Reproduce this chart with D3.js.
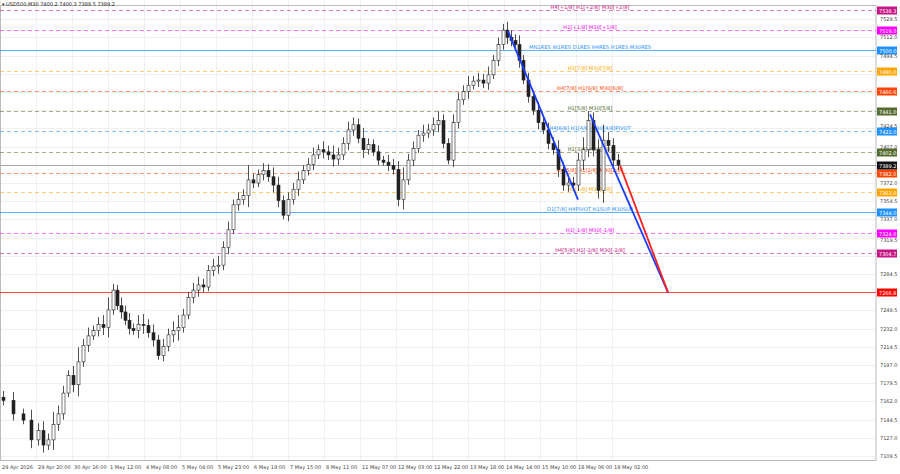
<!DOCTYPE html><html><head><meta charset="utf-8"><script src="https://cdn.jsdelivr.net/npm/d3@7"></script>
<style>body{margin:0;background:#fff}text{font-family:"DejaVu Sans",sans-serif}</style></head><body><svg id="c" width="900" height="474"></svg>
<script>
const bars=[0,10,20,28,35,40,45,50,55,60,65,70,75,80,85,90,95,100,105,110,114,118,122,126,130,135,140,145,150,155,160,165,170,175,180,185,190,195,200,205,210,215,220,225,230,235,240,245,250,255,260,265,270,275,280,285,290,295,300,305,310,315,320,325,330,335,340,345,350,355,360,365,370,375,380,385,390,395,400,405,410,415,420,425,430,435,440,445,450,455,460,465,470,475,480,485,490,495,500,504,508,512,516,520,525,530,535,540,545,550,555,560,565,570,575,580,585,590,595,600,605,610,615];
const closes=[7163,7150,7144,7125,7134,7120,7125,7140,7150,7170,7187,7178,7200,7216,7225,7230,7236,7233,7250,7269,7254,7248,7240,7232,7230,7236,7235,7228,7221,7206,7215,7226,7230,7233,7245,7262,7269,7274,7272,7288,7292,7293,7310,7327,7351,7356,7360,7375,7372,7380,7384,7378,7370,7355,7341,7356,7366,7375,7384,7390,7399,7404,7402,7399,7395,7399,7410,7423,7428,7415,7404,7409,7402,7394,7392,7389,7385,7356,7375,7394,7405,7418,7420,7423,7428,7432,7410,7394,7430,7452,7460,7466,7470,7471,7468,7476,7490,7505,7519,7512,7509,7505,7490,7471,7455,7442,7430,7423,7410,7404,7385,7370,7372,7370,7394,7404,7432,7404,7365,7413,7408,7394,7389.2];
const wicks=[6,8,5,10,7,9,6,12,8,7,5,9,14,6,8,5,7,9,12,6,5,8,6,7,5,9,10,6,8,5,7,6,9,12,6,5,7,8,6,5,7,9,6,8,5,7,6,14,6,5,7,6,9,8,5,7,6,8,5,6,7,5,8,6,9,7,6,8,7,6,10,6,5,6,4,7,6,8,12,6,7,5,8,6,7,9,6,5,8,7,6,9,5,7,6,8,5,7,6,8,7,6,9,5,7,6,8,5,7,6,9,7,8,6,7,12,9,8,10,15,8,7,6];
const xLabels=["29 Apr 2026","29 Apr 20:00","30 Apr 16:00","1 May 12:00","4 May 08:00","5 May 04:00","5 May 23:00","6 May 19:00","7 May 15:00","8 May 11:00","11 May 07:00","12 May 03:00","12 May 22:00","13 May 18:00","14 May 14:00","15 May 10:00","18 May 06:00","19 May 02:00"];
const yTicks=[7529.5,7512.0,7494.5,7477.0,7459.5,7442.0,7424.5,7407.0,7389.5,7372.0,7354.5,7337.0,7319.5,7302.0,7284.5,7267.0,7249.5,7232.0,7214.5,7197.0,7179.5,7162.0,7144.5,7127.0,7109.5];
const levels=[
{v:7538.3,t:"H4[+1/8] H1[+2/8] M30[+2/8]",c:"#c71585",d:true},
{v:7519.0,t:"H1[+1/8] M30[+1/8]",c:"#ff00ff",d:true},
{v:7500.0,t:"MN1RES W1RES D1RES H4RES H1RES M30RES",c:"#1e90ff",d:false},
{v:7480.0,t:"H1[7/8] M30[7/8]",c:"#ffa500",d:true},
{v:7460.6,t:"H4[7/8] H1[6/8] M30[6/8]",c:"#ff4500",d:true},
{v:7441.0,t:"H1[5/8] M30[5/8]",c:"#556b2f",d:true},
{v:7422.0,t:"H4[6/8] H1[4/8] M30[4/8]PIVOT",c:"#1e90ff",d:true},
{v:7402.0,t:"H1[3/8] M30[3/8]",c:"#556b2f",d:true},
{v:7382.0,t:"H4[5/8] H1[2/8] M30[2/8]",c:"#ff4500",d:true},
{v:7363.0,t:"H1[1/8] M30[1/8]",c:"#ffa500",d:true},
{v:7344.0,t:"D1[7/8] H4PIVOT H1SUP M30SUP",c:"#1e90ff",d:false},
{v:7324.0,t:"H1[-1/8] M30[-1/8]",c:"#ff00ff",d:true},
{v:7304.7,t:"H4[5/8] H1[-2/8] M30[-2/8]",c:"#c71585",d:true},
{v:7266.8,t:"",c:"#ff0000",d:false}];
const trends=[{a:[505,7518],b:[575,7356],c:"#1a3cff"},{a:[587,7438],b:[665,7266.8],c:"#1a3cff"},{a:[617,7389],b:[665,7266.8],c:"#ff2020"}];
const svg=d3.select("#c");
const W=876;
const y=d3.scaleLinear().domain([7109.5,7529.5]).range([456,19.2]);
const x=d3.scaleLinear().domain([0,615]).range([3,618]);
const xl=d3.scaleLinear().domain([0,17]).range([0,612]);
svg.append("g").selectAll("line").data(xLabels).join("line").attr("x1",(d,i)=>xl(i)+0.5).attr("x2",(d,i)=>xl(i)+0.5).attr("y1",0).attr("y2",460).attr("stroke","#f0f0f0");
svg.append("g").selectAll("line").data(yTicks).join("line").attr("x1",0).attr("x2",W).attr("y1",d=>Math.round(y(d))+0.5).attr("y2",d=>Math.round(y(d))+0.5).attr("stroke","#f0f0f0");
svg.append("rect").attr("x",0.5).attr("y",5.5).attr("width",W-0.5).attr("height",455).attr("fill","none").attr("stroke","#bbb");
const lg=svg.append("g");
levels.forEach(l=>{const yy=Math.round(y(l.v))+0.5;
lg.append("line").attr("x1",0).attr("x2",W).attr("y1",yy).attr("y2",yy).attr("stroke",l.c).attr("stroke-opacity",l.d?0.55:0.7).attr("stroke-width",1).attr("stroke-dasharray",l.d?"4,3":null);
if(l.t)lg.append("text").attr("x",590).attr("y",yy-2).attr("text-anchor","middle").attr("font-size",5.2).attr("fill",l.c).text(l.t);
lg.append("rect").attr("x",W+1).attr("y",yy-4).attr("width",20).attr("height",8).attr("fill",l.c);
lg.append("text").attr("x",W+3).attr("y",yy+2).attr("font-size",5).attr("fill","#fff").text(l.v.toFixed(1));});
const cy=Math.round(y(7389.2))+0.5;
svg.append("line").attr("x1",0).attr("x2",W).attr("y1",cy).attr("y2",cy).attr("stroke","#aaa");
svg.append("rect").attr("x",W+1).attr("y",cy-4).attr("width",20).attr("height",8).attr("fill","#111");
svg.append("text").attr("x",W+3).attr("y",cy+2).attr("font-size",5).attr("fill","#fff").text("7389.2");
svg.append("g").selectAll("text").data(yTicks.filter(d=>![7389.5,7267.0,7302.0,7442.0,7459.5,7477.0].includes(d))).join("text").attr("x",W+4).attr("y",d=>y(d)+(d===7424.5?0:d===7319.5?4:2)).attr("font-size",5).attr("fill","#444").text(d=>d.toFixed(1));
svg.append("g").selectAll("text").data(xLabels).join("text").attr("x",(d,i)=>xl(i)+2).attr("y",469).attr("font-size",5).attr("fill","#444").text(d=>d);
const cg=svg.append("g");
bars.forEach((b,i)=>{const c=closes[i];const o=i?closes[i-1]:c+3;const hi=Math.max(o,c)+wicks[i],lo=Math.min(o,c)-wicks[i]*0.8;const xx=Math.round(x(b))+0.5;
cg.append("line").attr("x1",xx).attr("x2",xx).attr("y1",y(hi)).attr("y2",y(lo)).attr("stroke","#222").attr("stroke-width",0.8);
cg.append("rect").attr("x",xx-1.5).attr("y",y(Math.max(o,c))).attr("width",3).attr("height",Math.max(0.8,Math.abs(y(o)-y(c)))).attr("fill",c>=o?"#fff":"#222").attr("stroke","#222").attr("stroke-width",0.6);});
trends.forEach(t=>svg.append("line").attr("x1",x(t.a[0])).attr("y1",y(t.a[1])).attr("x2",x(t.b[0])).attr("y2",y(t.b[1])).attr("stroke",t.c).attr("stroke-width",1.8));
svg.append("text").attr("x",2).attr("y",6).attr("font-size",5).attr("fill","#222").text("▾ USD500,M30  7400.2 7400.3 7388.5 7389.2");
</script></body></html>
